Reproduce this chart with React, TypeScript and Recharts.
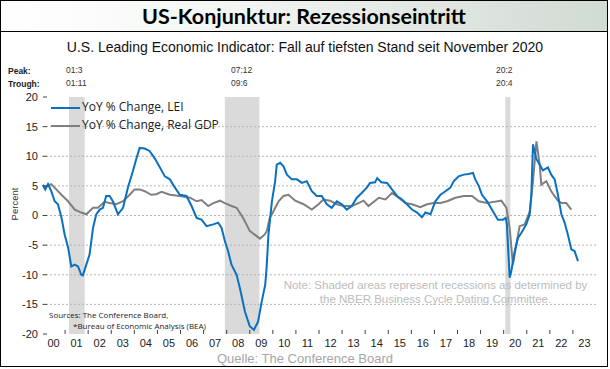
import React from "react";
import { LineChart, Line, XAxis, YAxis, ReferenceArea, ReferenceLine } from "recharts";

// LEI YoY % change (decimal year, percent)
const leiDates = [
  2000.04, 2000.14, 2000.26, 2000.4, 2000.55, 2000.69, 2000.84, 2000.98, 2001.13, 2001.27,
  2001.42, 2001.56, 2001.7, 2001.77, 2001.92, 2002.06, 2002.21, 2002.35, 2002.5, 2002.64,
  2002.78, 2002.93, 2003.07, 2003.29, 2003.51, 2003.72, 2003.94, 2004.08, 2004.23, 2004.45,
  2004.66, 2004.89, 2005.11, 2005.32, 2005.54, 2005.76, 2005.97, 2006.26, 2006.48, 2006.7,
  2006.91, 2007.13, 2007.42, 2007.63, 2007.78, 2007.92, 2008.06, 2008.21, 2008.43, 2008.57,
  2008.79, 2009.0, 2009.18, 2009.36, 2009.52, 2009.67, 2009.73, 2009.81, 2009.87, 2009.96,
  2010.1, 2010.17, 2010.32, 2010.46, 2010.61, 2010.82, 2011.04, 2011.26, 2011.47, 2011.69,
  2011.9, 2012.12, 2012.34, 2012.55, 2012.77, 2012.99, 2013.2, 2013.42, 2013.64, 2013.85,
  2014.07, 2014.21, 2014.43, 2014.52, 2014.7, 2014.95, 2015.16, 2015.38, 2015.6, 2015.81,
  2016.03, 2016.25, 2016.46, 2016.61, 2016.83, 2017.04, 2017.26, 2017.48, 2017.69, 2017.84,
  2018.05, 2018.27, 2018.48, 2018.67, 2018.77, 2018.92, 2019.06, 2019.28, 2019.49, 2019.75,
  2019.97, 2020.09, 2020.14, 2020.26, 2020.33, 2020.48, 2020.62, 2020.77, 2020.98, 2021.13,
  2021.2, 2021.27, 2021.42, 2021.56, 2021.7, 2021.92, 2022.06, 2022.21, 2022.35, 2022.5,
  2022.64, 2022.78, 2022.93, 2023.07, 2023.22,
];
const leiValues = [
  5.2, 4.4, 5.3, 4.1, 2.4, 1.9, -0.3, -3.2, -5.4, -8.6,
  -8.3, -8.6, -10.0, -10.1, -8.3, -6.6, -2.1, 0.2, 1.0, 1.3,
  3.3, 3.3, 2.4, 0.2, 1.3, 4.7, 7.5, 9.5, 11.4, 11.3,
  10.9, 9.6, 8.1, 6.6, 6.1, 4.7, 3.5, 3.3, 1.6, -0.4,
  -0.7, -1.8, -1.5, -1.2, -2.1, -4.3, -6.0, -8.3, -10.0, -12.2,
  -16.2, -18.7, -19.3, -17.9, -14.5, -11.7, -8.8, -3.2, -1.0, 2.4,
  5.8, 8.6, 8.9, 8.3, 6.9, 6.1, 6.1, 5.5, 5.8, 4.1,
  3.3, 3.3, 1.9, 1.3, 2.4, 1.9, 1.0, 1.6, 3.0, 3.8,
  4.7, 5.5, 5.6, 6.3, 5.6, 5.5, 4.4, 3.3, 2.7, 1.9,
  1.0, 0.5, -0.3, 0.5, 0.2, 2.4, 3.5, 4.1, 4.7, 5.8,
  6.6, 6.9, 7.0, 7.2, 6.1, 5.0, 3.5, 2.4, 1.0, -0.7,
  -0.7, -0.4, -1.5, -10.5, -9.4, -6.0, -3.8, -2.9, -1.5, 0.2,
  3.5, 12.0, 9.5, 8.6, 7.6, 8.1, 6.9, 6.1, 3.5, 0.2,
  -1.2, -3.2, -5.7, -6.0, -7.7,
];

// Real GDP YoY % change
const gdpDates = [
  2000.04, 2000.4, 2000.62, 2000.84, 2001.13, 2001.42, 2001.7, 2001.92, 2002.21, 2002.42,
  2002.71, 2002.93, 2003.22, 2003.51, 2003.8, 2004.01, 2004.23, 2004.45, 2004.73, 2004.95,
  2005.18, 2005.54, 2005.97, 2006.41, 2006.7, 2006.91, 2007.2, 2007.42, 2007.71, 2007.92,
  2008.21, 2008.43, 2008.71, 2009.0, 2009.44, 2009.65, 2009.74, 2009.87, 2009.96, 2010.25,
  2010.46, 2010.68, 2010.97, 2011.33, 2011.69, 2011.98, 2012.19, 2012.48, 2012.77, 2013.06,
  2013.42, 2013.71, 2013.93, 2014.14, 2014.43, 2014.59, 2014.88, 2015.16, 2015.45, 2015.74,
  2016.03, 2016.39, 2016.68, 2016.97, 2017.26, 2017.55, 2017.91, 2018.27, 2018.63, 2018.92,
  2019.28, 2019.57, 2019.9, 2020.12, 2020.26, 2020.4, 2020.55, 2020.69, 2020.91, 2021.13,
  2021.27, 2021.42, 2021.56, 2021.63, 2021.85, 2022.06, 2022.35, 2022.5, 2022.71, 2022.93,
];
const gdpValues = [
  4.7, 5.3, 4.4, 3.5, 2.4, 1.0, 0.5, 0.2, 1.3, 1.3,
  2.3, 2.1, 1.9, 2.4, 3.5, 4.4, 4.4, 4.1, 3.5, 3.6,
  4.0, 3.5, 3.3, 3.0, 2.4, 2.6, 1.6, 2.1, 2.5, 2.1,
  1.6, 1.3, -0.4, -2.6, -3.9, -3.2, -2.6, -0.4, 0.2, 2.4,
  3.3, 3.5, 2.5, 1.9, 1.0, 1.9, 2.7, 2.5, 1.9, 1.6,
  1.6, 2.1, 2.5, 1.6, 2.5, 3.0, 2.7, 3.8, 3.0, 2.1,
  1.9, 1.4, 1.9, 2.1, 2.1, 2.4, 3.0, 3.3, 3.3, 2.4,
  2.1, 2.3, 2.5, 1.3, -2.1, -8.3, -4.9, -1.8, -1.5, 0.7,
  5.8, 12.5, 8.6, 5.2, 5.8, 4.1, 2.5, 2.1, 2.1, 1.0,
];

const yTicks = [-20, -15, -10, -5, 0, 5, 10, 15, 20];
const gridValues = [-15, -10, -5, 0, 5, 10, 15];
const yearLabels = [
  "00", "01", "02", "03", "04", "05", "06", "07", "08", "09", "10", "11",
  "12", "13", "14", "15", "16", "17", "18", "19", "20", "21", "22", "23",
];
const yearMarks = [
  2001, 2002, 2003, 2004, 2005, 2006, 2007, 2008, 2009, 2010, 2011, 2012,
  2013, 2014, 2015, 2016, 2017, 2018, 2019, 2020, 2021, 2022, 2023,
];
const recessionStarts = [2001.17, 2007.92, 2020.07];
const recessionEnds = [2001.85, 2009.42, 2020.29];
const peakLabels = ["01:3", "07:12", "20:2"];
const troughLabels = ["01:11", "09:6", "20:4"];

const leiData = leiDates.map((x, i) => ({ x, v: leiValues[i] }));
const gdpData = gdpDates.map((x, i) => ({ x, v: gdpValues[i] }));
const labelTicks = yearLabels.map((_, i) => 2000.5 + i);

const ARIAL = "'Liberation Sans', Arial, sans-serif";
const SANS = "'Open Sans', sans-serif";

const YTick = (props: any) => {
  const { x, y, payload } = props;
  return (
    <g>
      <text x={x} y={y} dy="0.355em" textAnchor="end" fontSize={11} fontFamily={ARIAL} fill="#222">
        {payload.value}
      </text>
      <line x1={x + 5} x2={x + 9} y1={y} y2={y} stroke="#444" strokeWidth={1} />
    </g>
  );
};

const abs = (left: number, top: number, extra: React.CSSProperties = {}): React.CSSProperties => ({
  position: "absolute",
  left,
  top,
  whiteSpace: "nowrap",
  lineHeight: 1,
  ...extra,
});

export default function App() {
  return (
    <div style={{ position: "absolute", left: 0, top: 0, width: 610, height: 369, background: "#fff", overflow: "hidden" }}>
      <LineChart
        width={610}
        height={369}
        margin={{ top: 97, right: 14, bottom: 0, left: 0 }}
        style={{ position: "absolute", left: 0, top: 0 }}
      >
        <XAxis
          dataKey="x"
          type="number"
          domain={[2000, 2024]}
          ticks={labelTicks}
          tickFormatter={(v: number) => yearLabels[Math.round(v - 2000.5)]}
          tickLine={false}
          axisLine={false}
          tickSize={0}
          tickMargin={5}
          height={35}
          allowDuplicatedCategory={false}
          tick={{ fontSize: 11, fontFamily: ARIAL, fill: "#222" }}
          interval={0}
        />
        <YAxis
          type="number"
          domain={[-20, 20]}
          ticks={yTicks}
          width={42}
          tickLine={false}
          axisLine={false}
          tickSize={0}
          tickMargin={4}
          tick={<YTick />}
          interval={0}
        />
        {recessionStarts.map((s, i) => (
          <ReferenceArea key={`r${i}`} x1={s} x2={recessionEnds[i]} y1={-20} y2={20} fill="#dadada" fillOpacity={1} stroke="none" />
        ))}
        {gridValues.map((v) => (
          <ReferenceLine key={`g${v}`} y={v} stroke="#b5b5b5" strokeDasharray="2 2" strokeWidth={1} />
        ))}
        {yearMarks.map((yr) => (
          <ReferenceLine
            key={`t${yr}`}
            segment={[{ x: yr, y: -20 }, { x: yr, y: -19.3 }]}
            stroke="#444"
            strokeWidth={1}
          />
        ))}
        <Line data={gdpData} dataKey="v" type="linear" stroke="#7f7f7f" strokeWidth={2} dot={false} isAnimationActive={false} />
        <Line data={leiData} dataKey="v" type="linear" stroke="#0a70c0" strokeWidth={2} dot={false} isAnimationActive={false} />
      </LineChart>

      {/* header */}
      <div
        style={{
          position: "absolute",
          left: 0,
          top: 0,
          width: 608,
          height: 32,
          boxSizing: "border-box",
          background: "linear-gradient(to right, #ffffff 0%, #f4f7f4 35%, #d0dbd2 100%)",
          borderBottom: "1.5px solid #000",
          textAlign: "center",
          fontFamily: "Lato, sans-serif",
          fontWeight: 700,
          fontSize: 21.5,
          lineHeight: "32px",
          color: "#000",
        }}
      >
        US-Konjunktur: Rezessionseintritt
      </div>
      <div style={abs(0, 40, { width: 610, textAlign: "center", fontFamily: ARIAL, fontSize: 14, color: "#111" })}>
        U.S. Leading Economic Indicator: Fall auf tiefsten Stand seit November 2020
      </div>

      {/* peak / trough */}
      <div style={abs(8, 67, { fontFamily: ARIAL, fontSize: 8.5, fontWeight: 700, color: "#222" })}>Peak:</div>
      <div style={abs(8, 80, { fontFamily: ARIAL, fontSize: 8.5, fontWeight: 700, color: "#222" })}>Trough:</div>
      {peakLabels.map((p, i) => (
        <React.Fragment key={p}>
          <div style={abs([66, 231, 496][i], 66, { fontFamily: ARIAL, fontSize: 8.5, color: "#333" })}>{p}</div>
          <div style={abs([66, 231, 496][i], 79, { fontFamily: ARIAL, fontSize: 8.5, color: "#333" })}>{troughLabels[i]}</div>
        </React.Fragment>
      ))}

      {/* legend */}
      <div style={abs(51, 107, { width: 29, height: 2, background: "#0a70c0" })} />
      <div style={abs(82, 101, { fontFamily: SANS, fontSize: 12, color: "#222" })}>YoY % Change, LEI</div>
      <div style={abs(51, 125, { width: 29, height: 2, background: "#7f7f7f" })} />
      <div style={abs(82, 119, { fontFamily: SANS, fontSize: 12, color: "#222" })}>YoY % Change, Real GDP</div>

      {/* percent axis label */}
      <div style={abs(15, 204, { fontFamily: ARIAL, fontSize: 9.5, color: "#333", transform: "translate(-50%, -50%) rotate(-90deg)" })}>
        Percent
      </div>

      {/* note */}
      <div style={abs(283, 278, { width: 305, textAlign: "center", fontFamily: ARIAL, fontSize: 11.5, color: "#bcbcbc", lineHeight: "14px" })}>
        Note: Shaded areas represent recessions as determined by
        <br />
        the NBER Business Cycle Dating Committee.
      </div>

      {/* sources */}
      <div style={abs(49, 311, { fontFamily: SANS, fontSize: 8, color: "#222" })}>Sources: The Conference Board,</div>
      <div style={abs(73, 322, { fontFamily: SANS, fontSize: 8, color: "#222" })}>*Bureau of Economic Analysis (BEA)</div>

      <div style={abs(0, 352, { width: 610, textAlign: "center", fontFamily: ARIAL, fontSize: 13, color: "#a6a6a6" })}>
        Quelle: The Conference Board
      </div>

      {/* frame */}
      <div style={{ position: "absolute", left: 0, top: 0, width: 608, height: 367, boxSizing: "border-box", border: "1.5px solid #000" }} />
    </div>
  );
}
